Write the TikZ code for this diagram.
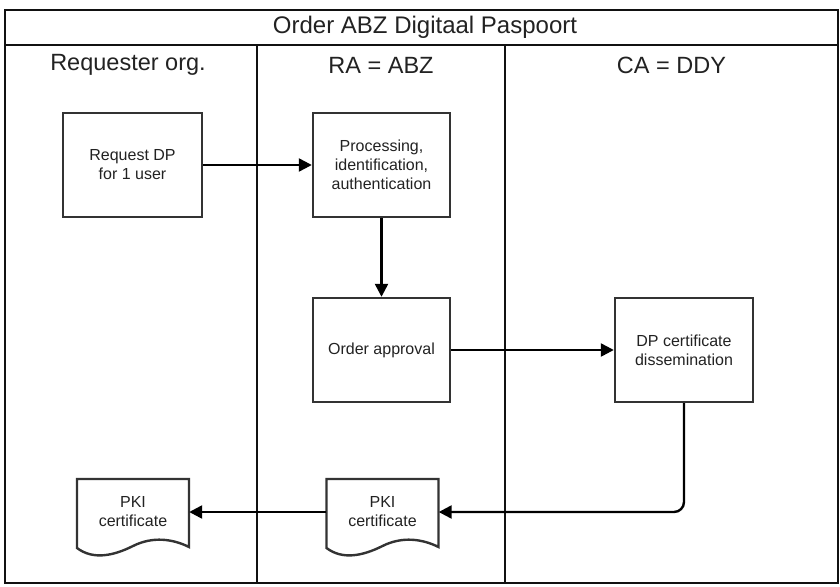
\documentclass[tikz,border=0pt]{standalone}
\usepackage{fontspec}
\setmainfont{Liberation Sans}
\usetikzlibrary{arrows.meta}
\definecolor{frame}{HTML}{111111}
\definecolor{boxc}{HTML}{333333}
\definecolor{txt}{HTML}{222222}
\tikzset{
  frameline/.style={draw=frame, line width=2.5pt},
  procbox/.style={draw=boxc, line width=2.4pt, minimum width=137pt, minimum height=104pt,
    align=center, text=txt, font=\fontsize{16}{19}\selectfont, inner sep=0pt},
  docnode/.style={minimum width=112pt, minimum height=66pt, align=center, text=txt,
    font=\fontsize{16}{19}\selectfont, inner sep=0pt},
  docline/.style={draw=boxc, line width=2.4pt},
  flow/.style={draw=black, line width=2.4pt, -{Triangle[length=13pt,width=13pt]}},
  titletext/.style={font=\fontsize{24}{28}\selectfont, text=txt},
  headtext/.style={font=\fontsize{23.5}{28}\selectfont, text=txt},
}
\newcommand\docoutline[1]{%
  \begin{scope}[shift={(#1.center)}]
    \draw[docline] (-56,-33) -- (56,-33) -- (56,35)
      .. controls (40,27) and (20,24) .. (0,34)
      .. controls (-20,44) and (-40,48) .. (-56,36) -- cycle;
  \end{scope}}
\begin{document}
\begin{tikzpicture}[x=1pt,y=-1pt]
\useasboundingbox (0,0) rectangle (840,586);
% frame and lanes
\draw[frameline] (5,10) rectangle (838,583);
\draw[frameline] (5,45) -- (838,45);
\draw[frameline] (257,45) -- (257,583);
\draw[frameline] (505,45) -- (505,583);
\node[titletext] (title) at (425,27.5) {Order ABZ Digitaal Paspoort};
\node[headtext] (h1) at (128,65) {Requester org.};
\node[headtext] (h2) at (381,65) {RA = ABZ};
\node[headtext] (h3) at (671.5,65) {CA = DDY};
% process boxes
\node[procbox, minimum width=139pt] (req) at (132.5,165) {Request DP\\for 1 user};
\node[procbox] (proc) at (381.5,165) {Processing,\\identification,\\authentication};
\node[procbox] (appr) at (381.5,350) {Order approval};
\node[procbox, minimum width=138pt] (dpc) at (684,350) {DP certificate\\dissemination};
% documents
\node[docnode] (pkiB) at (382.5,512) {PKI\\certificate};
\node[docnode] (pkiA) at (133,512) {PKI\\certificate};
\docoutline{pkiB}
\docoutline{pkiA}
% connectors
\draw[flow] (req.east) -- (proc.west);
\draw[flow] (proc.south) -- (appr.north);
\draw[flow] (appr.east) -- (dpc.west);
\draw[flow, rounded corners=10pt] (dpc.south) |- (pkiB.east);
\draw[flow] (pkiB.west) -- (pkiA.east);
\end{tikzpicture}
\end{document}
